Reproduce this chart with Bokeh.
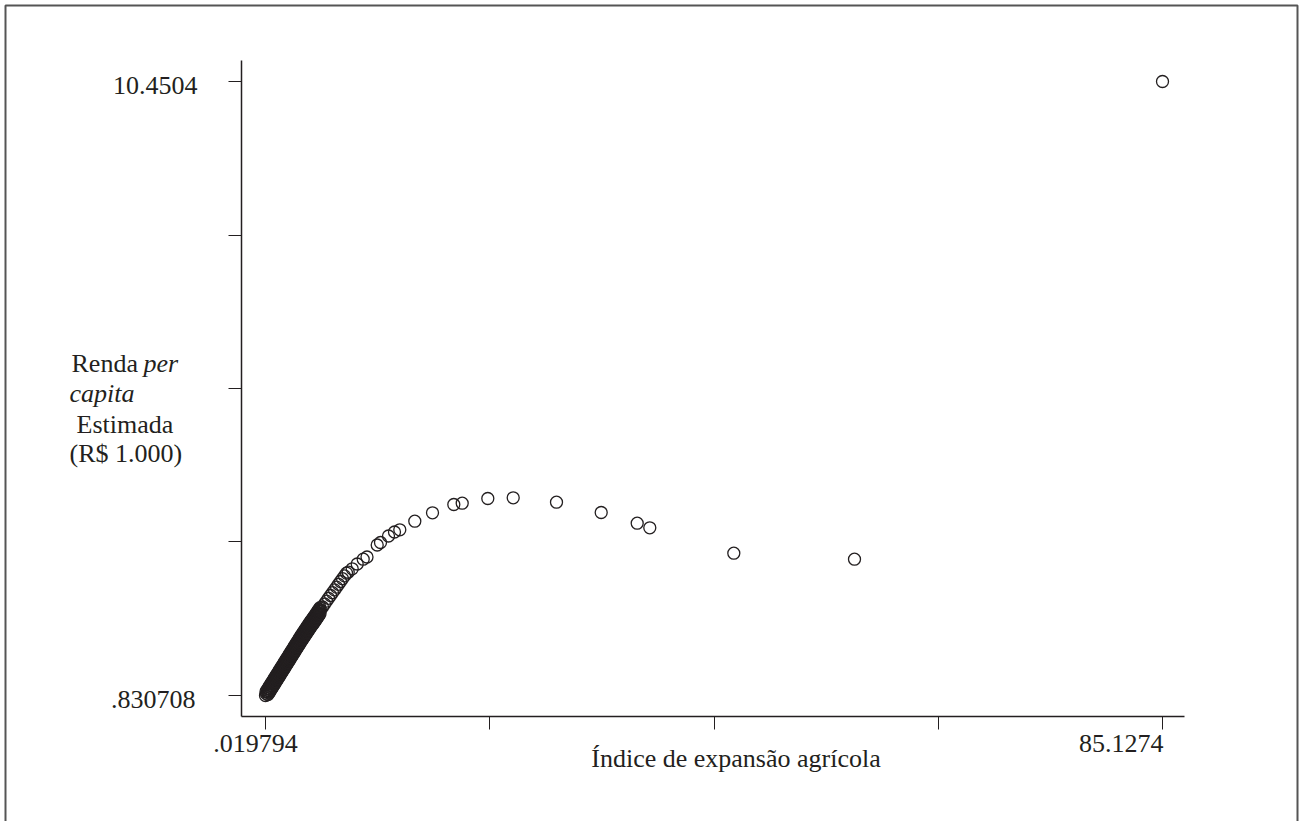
from bokeh.plotting import figure
from bokeh.models import Range1d, FixedTicker, Label, BoxAnnotation
from bokeh.embed import file_html
from bokeh.resources import INLINE

# ---- data ----
band_x = [0.019794, 0.1147, 0.2096, 0.3044, 0.3993, 0.4942, 0.5891, 0.684, 0.7788, 0.8737,
          0.9686, 1.0635, 1.1584, 1.2532, 1.3481, 1.443, 1.5379, 1.6328, 1.7276, 1.8225,
          1.9174, 2.0123, 2.1072, 2.202, 2.2969, 2.3918, 2.4867, 2.5816, 2.6764, 2.7713,
          2.8662, 2.9611, 3.056, 3.1508, 3.2457, 3.3406, 3.4355, 3.5304, 3.6252, 3.7201,
          3.815, 3.9099, 4.0048, 4.0996, 4.1945, 4.2894, 4.3843, 4.4792, 4.574, 4.6689,
          4.7638, 4.8587, 4.9536, 5.0484, 5.1433, 5.2382, 5.428, 5.6177, 5.8075, 5.9972,
          6.187, 6.3768, 6.5665, 6.7563, 6.946, 7.1358, 7.3256, 7.5153, 7.7051]
band_y = [0.830708, 0.8558, 0.8808, 0.9059, 0.931, 0.956, 0.9811, 1.0062, 1.0312, 1.0563,
          1.0814, 1.1064, 1.1315, 1.1566, 1.1816, 1.2067, 1.2318, 1.2568, 1.2819, 1.307,
          1.332, 1.3571, 1.3822, 1.4072, 1.4323, 1.4574, 1.4824, 1.5075, 1.5326, 1.5576,
          1.5827, 1.6078, 1.6328, 1.6579, 1.683, 1.708, 1.7316, 1.7551, 1.7786, 1.8021,
          1.8256, 1.8491, 1.8726, 1.8961, 1.9196, 1.9431, 1.965, 1.987, 2.0089, 2.0308,
          2.0528, 2.0763, 2.0998, 2.1233, 2.1468, 2.1703, 2.2172, 2.2642, 2.3097, 2.3535,
          2.3974, 2.4413, 2.4851, 2.529, 2.5729, 2.6167, 2.6606, 2.7045, 2.7483]
band2_x = [0.0672, 0.1621, 0.257, 0.3518, 0.4467, 0.5416, 0.6365, 0.7314, 0.8262, 0.9211,
           1.016, 1.1109, 1.2058, 1.3006, 1.3955, 1.4904, 1.5853, 1.6802, 1.775, 1.8699,
           1.9648, 2.0597, 2.1546, 2.2494, 2.3443, 2.4392, 2.5341, 2.629, 2.7238, 2.8187,
           2.9136, 3.0085, 3.1034, 3.1982, 3.2931, 3.388, 3.4829, 3.5778, 3.6726, 3.7675,
           3.8624, 3.9573, 4.0522, 4.147, 4.2419, 4.3368, 4.4317, 4.5266, 4.6214, 4.7163,
           4.8112, 4.9061, 5.001, 5.0958, 5.1907]
band2_y = [0.8902, 0.9153, 0.9403, 0.9654, 0.9905, 1.0155, 1.0406, 1.0657, 1.0907, 1.1158,
           1.1409, 1.1659, 1.191, 1.2161, 1.2411, 1.2662, 1.2913, 1.3163, 1.3414, 1.3665,
           1.3915, 1.4166, 1.4417, 1.4667, 1.4918, 1.5169, 1.5419, 1.567, 1.5921, 1.6171,
           1.6422, 1.6673, 1.6923, 1.7174, 1.7425, 1.7668, 1.7904, 1.8139, 1.8374, 1.8609,
           1.8844, 1.9079, 1.9314, 1.9549, 1.9784, 2.0011, 2.023, 2.045, 2.0669, 2.0888,
           2.1116, 2.1351, 2.1586, 2.1821, 2.2056]
band3_x = [0.257, 0.3518, 0.4467, 0.5416, 0.6365, 0.7314, 0.8262, 0.9211,
           1.016, 1.1109, 1.2058, 1.3006, 1.3955, 1.4904, 1.5853, 1.6802, 1.775, 1.8699,
           1.9648, 2.0597, 2.1546, 2.2494, 2.3443, 2.4392, 2.5341, 2.629, 2.7238, 2.8187,
           2.9136, 3.0085, 3.1034, 3.1982, 3.2931, 3.388, 3.4829, 3.5778, 3.6726, 3.7675,
           3.8624, 3.9573, 4.0522, 4.147, 4.2419, 4.3368, 4.4317, 4.5266, 4.6214, 4.7163,
           4.8112, 4.9061, 5.001, 5.0958, 5.1907]
band3_y = [0.8463, 0.8714, 0.8965, 0.9215, 0.9466, 0.9717, 0.9967, 1.0218,
           1.0469, 1.0719, 1.097, 1.1221, 1.1471, 1.1722, 1.1973, 1.2223, 1.2474, 1.2725,
           1.2975, 1.3226, 1.3477, 1.3727, 1.3978, 1.4229, 1.4479, 1.473, 1.4981, 1.5231,
           1.5482, 1.5733, 1.5983, 1.6234, 1.6485, 1.6727, 1.6963, 1.7198, 1.7433, 1.7668,
           1.7903, 1.8138, 1.8373, 1.8608, 1.8843, 1.9071, 1.929, 1.951, 1.9729, 1.9948,
           2.0175, 2.041, 2.0645, 2.088, 2.1115]
sparse_x = [7.867, 8.246, 8.72, 9.29, 9.65, 10.618, 10.931, 11.69, 12.259, 12.762,
            14.185, 15.865, 17.886, 18.683, 21.112, 23.522, 27.63, 31.871, 35.287, 36.482,
            44.453, 55.904, 85.1274]
sparse_y = [2.7625, 2.8157, 2.8909, 2.9661, 3.0006, 3.1886, 3.2278, 3.3296, 3.3923, 3.4267,
            3.5615, 3.6931, 3.8231, 3.8435, 3.9171, 3.9281, 3.8591, 3.6978, 3.5301, 3.4581,
            3.0601, 2.9661, 10.4504]

x_ticks = [0.019794, 21.296696, 42.573597, 63.850499, 85.1274]
y_ticks = [0.830708, 3.235631, 5.640554, 8.045477, 10.4504]
x_tick_labels = [".019794", "85.1274"]
y_tick_labels = [".830708", "10.4504"]
x_title = "Índice de expansão agrícola"
y_title_parts = ["Renda", "per", "capita", "Estimada", "(R$ 1.000)"]

FONT = "Liberation Serif"
INK = "#231f20"

xs = band_x + band2_x + band3_x + sparse_x
ys = band_y + band2_y + band3_y + sparse_y

# whole canvas is the frame; axes are pinned inside it
X0, X1 = -25.1234, 98.2206
Y0, Y1 = -1.14337, 11.71945
XB = (-2.25733, 87.2148)
YB = (0.5017, 10.7794)

p = figure(width=1300, height=821, output_backend="svg", toolbar_location=None,
           x_range=Range1d(X0, X1), y_range=Range1d(Y0, Y1), min_border=0)
p.title.visible = False
p.background_fill_color = "white"
p.border_fill_color = "white"
p.outline_line_color = None
p.grid.visible = False

p.scatter(xs, ys, marker="circle", size=12, fill_color=None, line_color=INK, line_width=1.3)

p.xaxis.fixed_location = YB[0]
p.yaxis.fixed_location = XB[0]
for ax, ticks, b in ((p.xaxis[0], x_ticks, XB), (p.yaxis[0], y_ticks, YB)):
    ax.bounds = b
    ax.ticker = FixedTicker(ticks=ticks)
    ax.major_label_overrides = {t: "" for t in ticks}
    ax.axis_line_color = INK
    ax.axis_line_width = 1.5
    ax.major_tick_line_color = INK
    ax.major_tick_line_width = 1
    ax.major_tick_out = 13
    ax.major_tick_in = 0
    ax.minor_tick_line_color = None

def lab(**kw):
    base = dict(text_font=FONT, text_font_size="26px", text_color=INK, text_baseline="alphabetic")
    base.update(kw)
    p.add_layout(Label(**base))

# tick labels at the end ticks
lab(x=x_ticks[0], y=743, y_units="canvas", text=x_tick_labels[0], text_align="center", x_offset=-10)
lab(x=x_ticks[-1], y=743, y_units="canvas", text=x_tick_labels[1], text_align="right", x_offset=1)
lab(x=195, x_units="canvas", y=y_ticks[0], text=y_tick_labels[0], text_align="right", y_offset=-4)
lab(x=197, x_units="canvas", y=y_ticks[-1], text=y_tick_labels[1], text_align="right", y_offset=-4)

# axis titles
lab(x=735.5, y=758, x_units="canvas", y_units="canvas", text=x_title, text_align="center")
ytitle_pos = [(71, 363, "normal"), (143, 363, "italic"), (69, 393, "italic"),
              (76, 424, "normal"), (69, 453, "normal")]
for (lx, ly, st), txt in zip(ytitle_pos, y_title_parts):
    lab(x=lx, y=ly, x_units="canvas", y_units="canvas", text=txt, text_align="left",
        text_font_style=st)

# outer frame (its bottom edge lies below the window)
p.add_layout(BoxAnnotation(left=5, right=1297, top=5, bottom=900,
                           left_units="canvas", right_units="canvas",
                           top_units="canvas", bottom_units="canvas",
                           fill_alpha=0, line_color="#555555", line_alpha=1.0, line_width=2))

open("out.html", "w").write(file_html(p, INLINE))
